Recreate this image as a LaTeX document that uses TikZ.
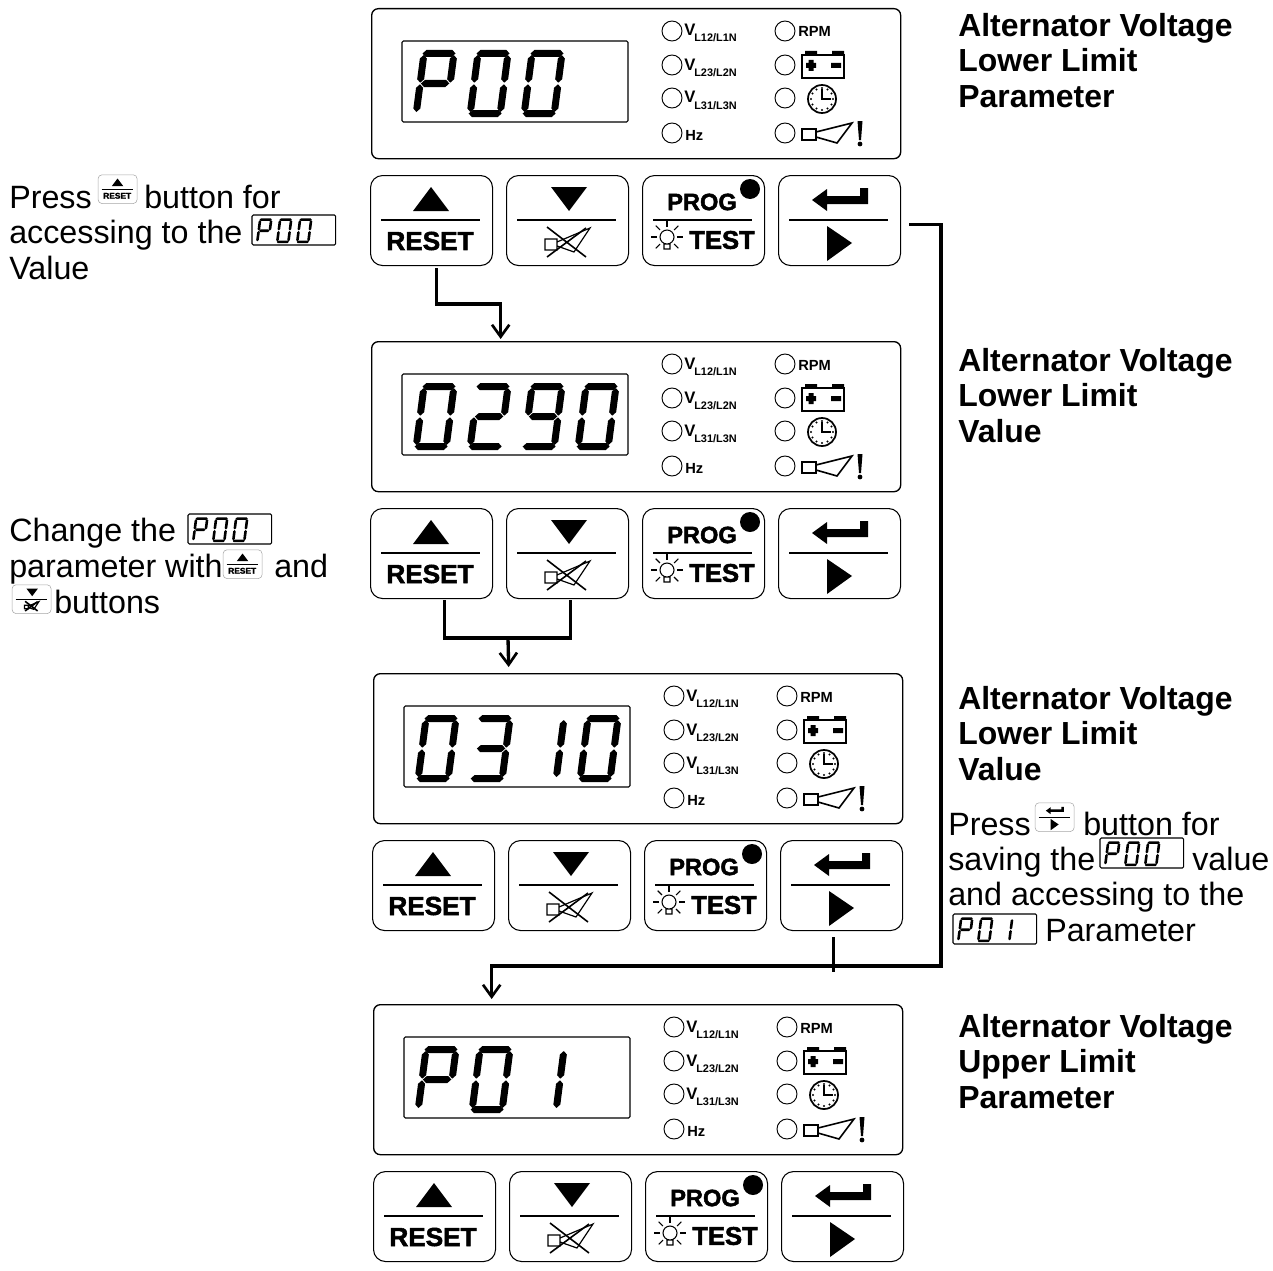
\documentclass[tikz,border=0pt]{standalone}
\usepackage{fontspec}
\setmainfont{Liberation Sans}
\newfontfamily\heavyfont{Liberation Sans}[BoldFeatures={FakeBold=2}]
\usetikzlibrary{arrows.meta}

% seven segment bars
\newcommand{\seghor}[3]{\fill (#1,#3) -- (#1+3.5,#3-3.5) -- (#2-3.5,#3-3.5) -- (#2,#3) -- (#2-3.5,#3+3.5) -- (#1+3.5,#3+3.5) -- cycle;}
\newcommand{\segver}[3]{\fill (#1,#2) -- (#1+3.5,#2+3.5) -- (#1+3.5,#3-3.5) -- (#1,#3) -- (#1-3.5,#3-3.5) -- (#1-3.5,#2+3.5) -- cycle;}
\newcommand{\sega}{\seghor{-1.5}{31.5}{0}}
\newcommand{\segb}{\segver{30}{1.5}{29.2}}
\newcommand{\segc}{\segver{30}{30.8}{58.5}}
\newcommand{\segd}{\seghor{-1.5}{31.5}{60}}
\newcommand{\sege}{\segver{0}{30.8}{58.5}}
\newcommand{\segf}{\segver{0}{1.5}{29.2}}
\newcommand{\segg}{\seghor{.8}{29.2}{30}}
\expandafter\def\csname digP\endcsname{a,b,e,f,g}
\expandafter\def\csname dig0\endcsname{a,b,c,d,e,f}
\expandafter\def\csname dig1\endcsname{b,c}
\expandafter\def\csname dig2\endcsname{a,b,d,e,g}
\expandafter\def\csname dig3\endcsname{a,b,c,d,g}
\expandafter\def\csname dig9\endcsname{a,b,c,d,f,g}

\tikzset{
  x=.75pt, y=-.75pt,
  flow/.style={line width=2.5pt},
  flowarrow/.style={flow, -{Straight Barb[length=9pt,width=13pt,line width=2pt]}},
  panelframe/.style={draw, line width=1pt, rounded corners=5pt, anchor=north west, inner sep=0pt,
    minimum width=396.75pt, minimum height=112.5pt},
  btnframe/.style={draw, line width=.8pt, rounded corners=9pt, anchor=north west, inner sep=0pt,
    minimum width=91.5pt, minimum height=67.5pt},
  btnrule/.style={line width=1.5pt},
  ledlamp/.style={draw, circle, line width=.7pt, inner sep=0pt, minimum size=15pt},
  ledtxt/.style={anchor=base west, inner sep=0pt, font=\fontsize{#1}{#1}\selectfont\bfseries},
  ledsub/.style={anchor=base west, inner sep=0pt, font=\fontsize{8.2}{8.2}\selectfont\bfseries},
  btntxt/.style={inner sep=0pt, font=\fontsize{#1}{#1}\selectfont\heavyfont\bfseries},
  bodytxt/.style={anchor=base west, inner sep=0pt, font=\fontsize{24.2}{24.2}\selectfont},
  titletxt/.style={anchor=base west, inner sep=0pt, font=\fontsize{23.95}{23.95}\selectfont\bfseries},
  smallbtn/.style={scale=.32, transform shape, btnframe/.append style={draw=black!35, line width=.4pt, rounded corners=3pt},
    btnrule/.append style={line width=.5pt}},
  smalllcd/.style={scale=.37, transform shape},
  % LCD window, top left corner at the pic's origin
  pics/lcd/.style={code={
    \draw[line width=.8pt, rounded corners=1pt] (0,0) rectangle (226,81);
    \edef\lcdlist{#1}
    \foreach \cc [count=\nn from 0] in \lcdlist {
      \edef\seglist{\csname dig\cc\endcsname}
      \begin{scope}[shift={({22+54*\nn},12.5)}, xslant=.13]
        \foreach \ss in \seglist {\csname seg\ss\endcsname}
      \end{scope}
    }
  }},
  % front panel with LEDs
  pics/panel/.style={code={
    \node[panelframe] (-frame) at (0,-1) {};
    \pic at (31,32) {lcd={#1}};
    \foreach \ly [count=\nn] in {22,56,89,124} {
      \node[ledlamp] (-ledl\nn) at (301,\ly) {};
      \node[ledlamp] (-ledr\nn) at (414,\ly) {};
    }
    \node[ledtxt=12.5] (-v1) at (313,27) {V};
    \node[ledsub] (-s1) at (323,33) {L12/L1N};
    \node[ledtxt=12.5] (-v2) at (313,61) {V};
    \node[ledsub] (-s2) at (323,67) {L23/L2N};
    \node[ledtxt=12.5] (-v3) at (313,94) {V};
    \node[ledsub] (-s3) at (323,100) {L31/L3N};
    \node[ledtxt=11] (-hz) at (314,131) {Hz};
    \node[ledtxt=11] (-rpm) at (427,28) {RPM};
    % battery
    \draw[line width=1.5pt] (431,46) rectangle (473,69);
    \fill (434,42) rectangle (446,46) (461,42) rectangle (473,46);
    \fill (437.5,51) rectangle (442.5,62) (435,54) rectangle (445,59) (460,54) rectangle (470,59);
    % clock
    \draw[line width=1.3pt] (451,90) circle (14);
    \foreach \aa in {0,30,...,330} {\fill (451,90) ++(\aa:11) circle (1.1);}
    \draw[line width=1.4pt] (451,80) -- (451,90) -- (460,90);
    % horn
    \draw[line width=1.2pt] (431,120) rectangle (445,131) (445,123) -- (481,114) -- (466,134) -- (445,128);
    \fill (486.5,112) -- (491.5,112) -- (490,131) -- (488,131) -- cycle;
    \fill (489,135) circle (2.4);
  }},
  % the four keys
  pics/upkey/.style={code={
    \node[btnframe] (-frame) at (0,-1) {};
    \draw[btnrule] (11,44) -- (110,44);
    \fill (61,11) -- (79,35) -- (43,35) -- cycle;
    \node[btntxt=19.6] (-txt) at (60,65) {RESET};
  }},
  pics/downkey/.style={code={
    \node[btnframe] (-frame) at (0,-1) {};
    \draw[btnrule] (11,44) -- (110,44);
    \fill (45,11) -- (81,11) -- (63,35) -- cycle;
    \draw[line width=.9pt] (39,63) rectangle (51,74) (51,66) -- (84,52) -- (68,76) -- (51,70);
    \draw[line width=1.2pt] (41,51) -- (80,81) (41,81) -- (80,52);
  }},
  pics/progkey/.style={code={
    \node[btnframe] (-frame) at (0,-1) {};
    \draw[btnrule] (11,44) -- (110,44);
    \node[btntxt=17.7] (-prog) at (60,26) {PROG};
    \fill (108,13) circle (10);
    \node[btntxt=19.2] (-test) at (80,64) {TEST};
    \draw[line width=.8pt] (25,61) circle (7) (22,68) rectangle (28,73);
    \foreach \aa in {0,45,135,180,225,270,315} {\draw[line width=.8pt] (25,61) ++(\aa:10) -- ++(\aa:6);}
  }},
  pics/enterkey/.style={code={
    \node[btnframe] (-frame) at (0,-1) {};
    \draw[btnrule] (11,44) -- (110,44);
    \fill (34,24) -- (49,13) -- (49,20) -- (82,20) -- (82,12) -- (90,12) -- (90,28) -- (49,28) -- (49,35) -- cycle;
    \fill (49,50) -- (74,67) -- (49,85) -- cycle;
  }}
}

\begin{document}
\begin{tikzpicture}
  \useasboundingbox (0,0) rectangle (1273,1270);

  % Panels and their keys
  \foreach \rr/\px/\py/\kx/\ky/\val in {a/371/9/370/176/{P,0,0}, b/371/342/370/509/{0,2,9,0},
      c/373/674/372/841/{0,3,1,0}, d/373/1005/373/1172/{P,0,1}} {
    \pic (\rr panel) at (\px,\py) {panel={\val}};
    \pic (\rr up) at (\kx,\ky) {upkey};
    \pic (\rr down) at (\kx+136,\ky) {downkey};
    \pic (\rr prog) at (\kx+272,\ky) {progkey};
    \pic (\rr enter) at (\kx+408,\ky) {enterkey};
  }

  % Titles
  \foreach \nm/\yy/\one/\two in {ta/37/Lower/Parameter, tb/371/Lower/Value, tc/709/Lower/Value, td/1037/Upper/Parameter} {
    \node[titletxt] (\nm 1) at (958,\yy) {Alternator Voltage};
    \node[titletxt] (\nm 2) at (958,\yy+35) {\one\ Limit};
    \node[titletxt] (\nm 3) at (958,\yy+71) {\two};
  }

  % First note
  \node[bodytxt] (pressa) at (9,208) {Press};
  \pic[smallbtn] (iconup) at (98,175) {upkey};
  \node[bodytxt] (buttona) at (144,208) {button for};
  \node[bodytxt] (accessa) at (9,243) {accessing to the};
  \pic[smalllcd] at (252,215) {lcd={P,0,0}};
  \node[bodytxt] (valuea) at (9,279) {Value};

  % Second note
  \node[bodytxt] (changeb) at (9,541) {Change the};
  \pic[smalllcd] at (188,514) {lcd={P,0,0}};
  \node[bodytxt] (paramb) at (9,577) {parameter with};
  \pic[smallbtn] (iconupb) at (223,550) {upkey};
  \node[bodytxt] (andb) at (274,577) {and};
  \pic[smallbtn] (icondownb) at (12,585) {downkey};
  \node[bodytxt] (buttonsb) at (54,613) {buttons};

  % Third note
  \node[bodytxt] (pressc) at (948,835) {Press};
  \pic[smallbtn] (iconenter) at (1035,803) {enterkey};
  \node[bodytxt] (buttonc) at (1083,835) {button for};
  \node[bodytxt] (savingc) at (948,870) {saving the};
  \pic[smalllcd] at (1100,838) {lcd={P,0,0}};
  \node[bodytxt] (valuec) at (1192,870) {value};
  \node[bodytxt] (accessc) at (948,905) {and accessing to the};
  \pic[smalllcd] at (953,914) {lcd={P,0,1}};
  \node[bodytxt] (paramc) at (1045,941) {Parameter};

  % Connectors
  \draw[flowarrow] ([shift={(5,2)}]aup-frame.south) -- ++(0,36) -| ([shift={(-135.5,-2)}]bpanel-frame.north);
  \coordinate (bjoin) at (508,638);
  \draw[flow] ([shift={(13,1)}]bup-frame.south) |- (bjoin) -| ([shift={(3,1)}]bdown-frame.south);
  \draw[flowarrow] (bjoin) -- ([shift={(-129.5,-6)}]cpanel-frame.north);
  \coordinate (busturn) at (941,966);
  \draw[flowarrow] ([shift={(8,4)}]aenter-frame.east) -| (busturn) -| ([shift={(-146.5,-5)}]dpanel-frame.north);
  \draw[flow] ([shift={(-8,6)}]center-frame.south) -- ([shift={(-8,6)}]center-frame.south |- busturn);
\end{tikzpicture}
\end{document}
